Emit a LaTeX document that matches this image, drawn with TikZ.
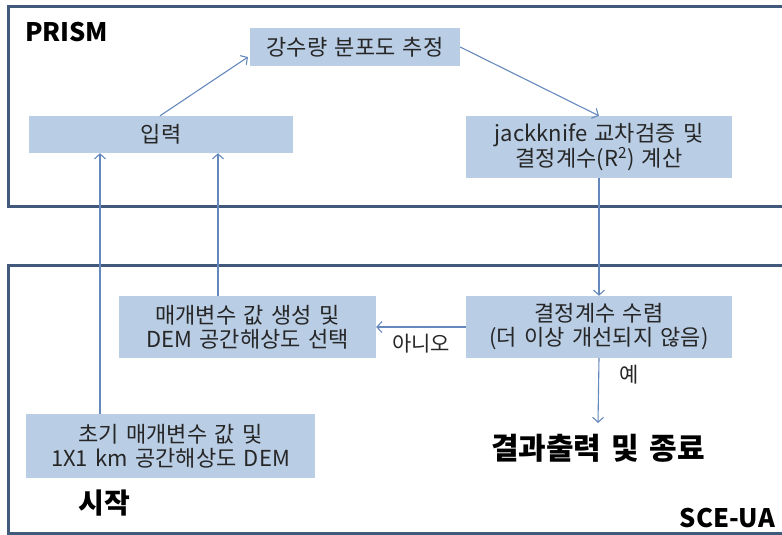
\documentclass[tikz,border=0pt]{standalone}
\usepackage{fontspec}
\setmainfont[WordSpace=1.5]{Noto Sans CJK KR}
\usetikzlibrary{arrows.meta}
\definecolor{frameC}{HTML}{41597A}
\definecolor{boxC}{HTML}{B9CDE5}
\definecolor{arrC}{HTML}{6689BD}
\definecolor{txtC}{HTML}{262626}
\tikzset{
  frame/.style={draw=frameC, line width=3pt},
  box/.style={fill=boxC, draw=none, align=center, text=txtC, font=\fontsize{22}{24}\selectfont, inner sep=0pt},
  arr/.style={draw=arrC, line width=1.1pt, -{Straight Barb[length=5pt,width=11pt,line width=1.1pt]}},
  ttl/.style={font=\fontsize{25.5}{29}\selectfont\bfseries, text=black, inner sep=0pt},
  lbl/.style={font=\fontsize{21}{24}\selectfont, text=txtC, inner sep=0pt},
}
\begin{document}
\begin{tikzpicture}[x=1pt,y=-1pt]
\useasboundingbox (0,0) rectangle (782,535);
\begin{scope}
\clip (0,0) rectangle (782,535);
\draw[frame] (8,7) rectangle (800,206);
\draw[frame] (8,265) rectangle (800,533);
\end{scope}
\node[ttl, anchor=west] (prism) at (25,32) {PRISM};
\node[ttl, anchor=east] (sceua) at (775,518) {SCE-UA};
\node[ttl, font=\fontsize{28}{32}\selectfont\bfseries] (start) at (104,503) {시작};
\node[ttl, font=\fontsize{30}{34}\selectfont\bfseries] (result) at (598,448) {결과출력 및 종료};

\node[box, minimum width=210pt, minimum height=38pt] (rain) at (355,47) {강수량 분포도 추정};
\node[box, minimum width=264pt, minimum height=37pt] (input) at (161,134.5) {입력};
\node[box, minimum width=266pt, minimum height=62pt] (jack) at (599,147) {jackknife 교차검증 및\\결정계수(R\textsuperscript{2}) 계산};
\node[box, minimum width=257pt, minimum height=62pt] (param) at (247.5,327) {매개변수 값 생성 및\\DEM 공간해상도 선택};
\node[box, minimum width=266pt, minimum height=62pt] (conv) at (599,327) {결정계수 수렴\\(더 이상 개선되지 않음)};
\node[box, minimum width=289pt, minimum height=64pt] (init) at (170.5,446) {초기 매개변수 값 및\\1X1 km 공간해상도 DEM};

\coordinate (rainIn) at (248,57);
\coordinate (endY) at (598,423);
\coordinate (inx) at (160,0);
\coordinate (px) at (218,0);
\coordinate (ix) at (100,0);

\draw[arr] (input.north -| inx) -- (rainIn);
\draw[arr] (rain.east) -- (jack.north);
\draw[arr] (jack.south) -- (conv.north);
\draw[arr] (conv.west) -- (param.east) node[lbl, pos=0.5, below=7pt] (no) {아니오};
\draw[arr] (conv.south) -- (endY) node[lbl, pos=0.26, right=20pt] (yes) {예};
\draw[arr] (param.north -| px) -- (input.south -| px);
\draw[arr] (init.north -| ix) -- (input.south -| ix);
\end{tikzpicture}
\end{document}
